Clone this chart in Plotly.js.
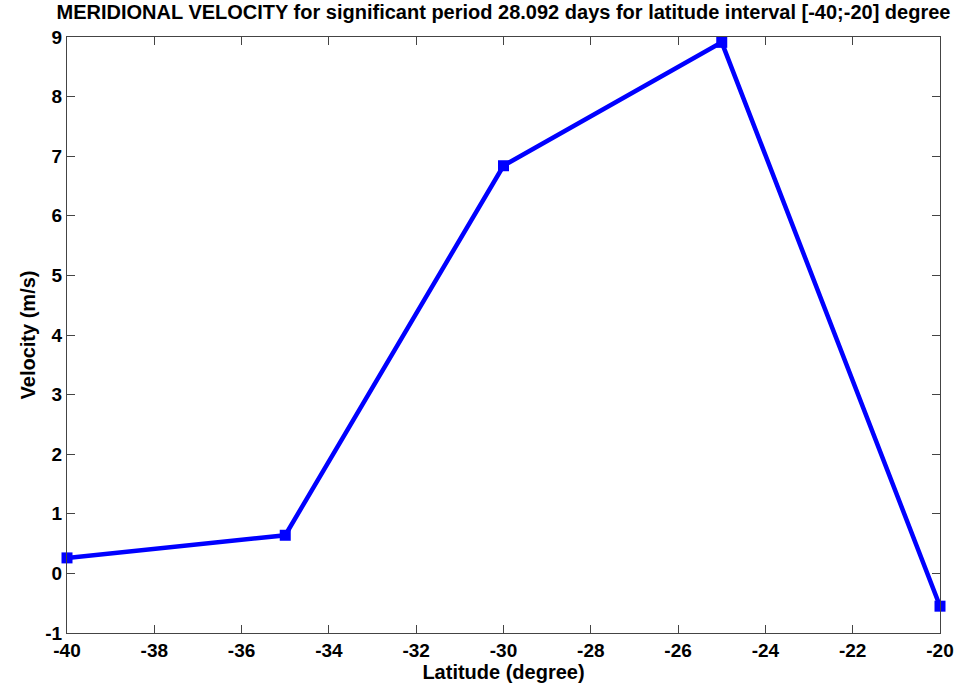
<!DOCTYPE html>
<html>
<head>
<meta charset="utf-8">
<script src="https://cdn.plot.ly/plotly-3.0.1.min.js"></script>
<style>body{margin:0;padding:0;background:#fff;} #chart{width:970px;height:684px;}</style>
</head>
<body>
<div id="chart"></div>
<script>
var latitudes = [-40, -35, -30, -25, -20];
var velocities = [0.26, 0.64, 6.84, 8.91, -0.55];
var xTicks = [-40, -38, -36, -34, -32, -30, -28, -26, -24, -22, -20];
var yTicks = [-1, 0, 1, 2, 3, 4, 5, 6, 7, 8, 9];

var fontFam = 'Liberation Sans, Arial, sans-serif';
var trace = {
  x: latitudes, y: velocities, type: 'scatter', mode: 'lines+markers',
  line: {color: '#0000ff', width: 4.5},
  marker: {symbol: 'square', size: 11, color: '#0000ff'},
  cliponaxis: false
};
var axisCommon = {
  showgrid: false, zeroline: false, showline: true, linecolor: '#444', linewidth: 1,
  mirror: 'allticks', ticks: 'inside', ticklen: 8, tickcolor: '#444', tickwidth: 1,
  tickfont: {family: fontFam, size: 19, color: '#000', weight: 'bold'}
};
var layout = {
  width: 970, height: 684,
  margin: {l: 67, r: 30, t: 37, b: 51},
  paper_bgcolor: '#fff', plot_bgcolor: '#fff',
  showlegend: false,
  title: {text: 'MERIDIONAL VELOCITY for significant period 28.092 days for latitude interval [-40;-20] degree',
    font: {family: fontFam, size: 20, color: '#000', weight: 'bold'},
    xref: 'paper', x: 0.5, xanchor: 'center', yref: 'container', y: 0.9927, yanchor: 'top'},
  xaxis: Object.assign({}, axisCommon, {range: [-40, -20], tickvals: xTicks, ticktext: xTicks.map(String),
    title: {text: 'Latitude (degree)', font: {family: fontFam, size: 20, color: '#000', weight: 'bold'}, standoff: 1}}),
  yaxis: Object.assign({}, axisCommon, {range: [-1, 9], tickvals: yTicks, ticktext: yTicks.map(String),
    title: {text: 'Velocity (m/s)', font: {family: fontFam, size: 20, color: '#000', weight: 'bold'}, standoff: 4}})
};
Plotly.newPlot('chart', [trace], layout, {displayModeBar: false, staticPlot: true});
</script>
</body>
</html>
